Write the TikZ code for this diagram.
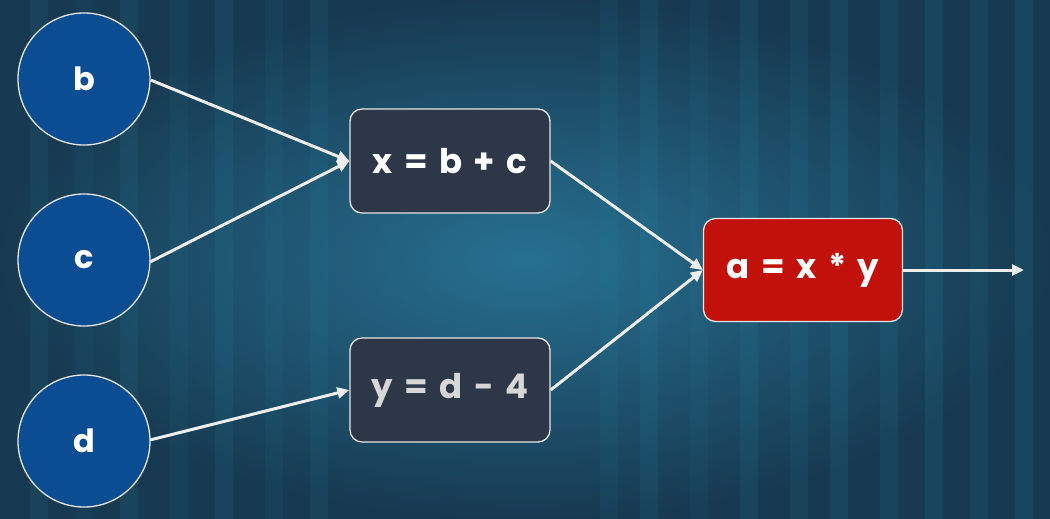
\documentclass[tikz,border=0pt]{standalone}
\usepackage{fontspec}
\setmainfont{Poppins}
\newfontfamily\boxfont[WordSpace=1.6]{Poppins}
\usetikzlibrary{arrows.meta,shadings}
\definecolor{bgdark}{HTML}{16344A}
\definecolor{bgmid}{HTML}{1E5372}
\definecolor{bglight}{HTML}{2A7899}
\definecolor{circfill}{HTML}{0B4D93}
\definecolor{boxfill}{HTML}{2D3748}
\definecolor{redfill}{HTML}{C2110A}
\definecolor{edge}{HTML}{E6E6E6}
\definecolor{wire}{HTML}{EEEEEE}
\tikzset{
  varnode/.style={circle, draw=edge, line width=1.3pt, fill=circfill, minimum size=132pt, inner sep=0pt, text=white, font=\fontsize{32}{34}\selectfont\bfseries},
  opbox/.style={rectangle, rounded corners=12pt, draw=edge, line width=1.3pt, fill=boxfill, minimum width=200pt, minimum height=104pt, inner sep=0pt, text=white, font=\boxfont\fontsize{34}{36}\selectfont\bfseries},
  resbox/.style={opbox, fill=redfill, minimum width=199pt, minimum height=103pt},
  wirearrow/.style={draw=wire, line width=3pt, -{Triangle[length=12pt,width=11pt]}}
}
\begin{document}
\begin{tikzpicture}[x=1pt,y=-1pt]
\useasboundingbox (0,0) rectangle (1050,519);
% background
\fill[bgmid] (0,0) rectangle (1050,519);
\shade[inner color=bglight, outer color=bgdark, opacity=0.8] (0,0) rectangle (1050,519);
\begin{scope}
\clip (0,0) rectangle (1050,519);
\foreach \xx/\op in {30/0.10,75/0.07,120/0.12,170/0.08,215/0.12,265/0.08,310/0.1,600/0.08,640/0.12,690/0.07,740/0.12,790/0.1,830/0.14,880/0.12,925/0.14,970/0.1,1015/0.14}{
  \fill[bglight!80!cyan, opacity=\op] (\xx,0) rectangle ++(18,519);
}
\end{scope}
% nodes
\node[varnode] (b) at (84,79) {b};
\node[varnode] (c) at (84,260) {c};
\node[varnode] (d) at (84,441) {d};
\node[opbox] (x) at (450,161) {x = b + c};
\node[opbox, text={rgb,255:red,215;green,215;blue,215}] (y) at (450,390) {y = d - 4};
\node[resbox] (a) at (803,270) {a = x * y};
\coordinate (out) at (1024,270);
% connectors
\draw[wirearrow] (b.east) ++(0,1) -- (x.west);
\draw[wirearrow] (c) ++(66,2) -- (x.west);
\draw[wirearrow] (d) ++(66,-1) -- (y.west);
\draw[wirearrow] (x.east) -- (a.west);
\draw[wirearrow] (y.east) -- (a.west);
\draw[wirearrow] (a.east) -- (out);
\end{tikzpicture}
\end{document}
